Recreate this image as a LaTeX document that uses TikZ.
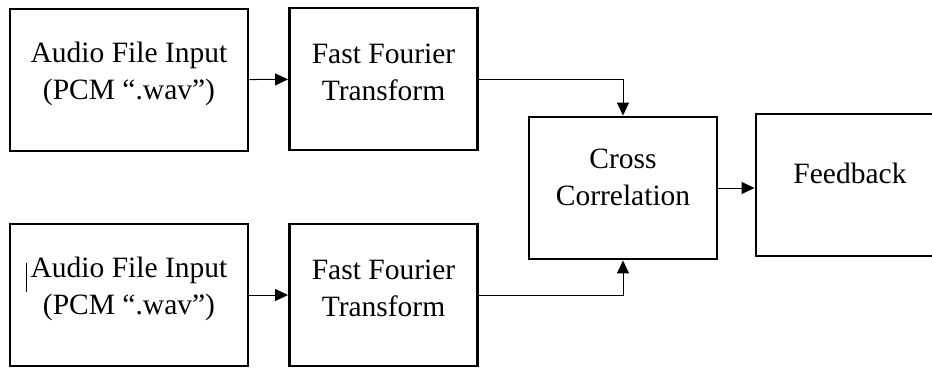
\documentclass[tikz,border=0pt]{standalone}
\usepackage{fontspec}
\setmainfont{Liberation Serif}
\usepackage{xcolor}
\usetikzlibrary{arrows.meta,positioning}
\definecolor{bdline}{HTML}{000000}
\tikzset{
  blk/.style={draw=bdline,line width=2.9pt,fill=white,minimum width=188pt,
    minimum height=142pt,align=center,inner sep=0pt,
    font=\fontsize{29.5}{37}\selectfont},
  wideblk/.style={blk,minimum width=238pt},
  flow/.style={-{Triangle[length=13pt,width=12pt]},line width=1pt,draw=bdline}
}
\begin{document}
\begin{tikzpicture}[x=1pt,y=-1pt]
  \useasboundingbox (0,0) rectangle (932,367);
  \clip (0,0) rectangle (932,367);
  \node[wideblk,text depth=18pt] (audA) at (129,80) {Audio File Input\\(PCM “.wav”)};
  \node[blk,text depth=14pt] (fftA) at (383.5,79) {Fast Fourier\\Transform};
  \node[blk,text depth=22pt] (corr) at (623,188) {Cross\\Correlation};
  \node[blk,text depth=24pt] (fdbk) at (850,185) {Feedback};
  \node[wideblk,text depth=18pt] (audB) at (129,295) {Audio File Input\\(PCM “.wav”)};
  \node[blk,text depth=14pt] (fftB) at (383.5,295) {Fast Fourier\\Transform};
  % stray caret in lower input box
  \draw[line width=0.7pt] (26,263) -- (26,292);
  \draw[flow] (audA) -- (fftA);
  \draw[flow] (audB) -- (fftB);
  \draw[flow] (fftA.east) -| (corr.north);
  \draw[flow] (fftB.east) -| (corr.south);
  \draw[flow] (corr.east) -- (corr.east -| fdbk.west);
\end{tikzpicture}
\end{document}
